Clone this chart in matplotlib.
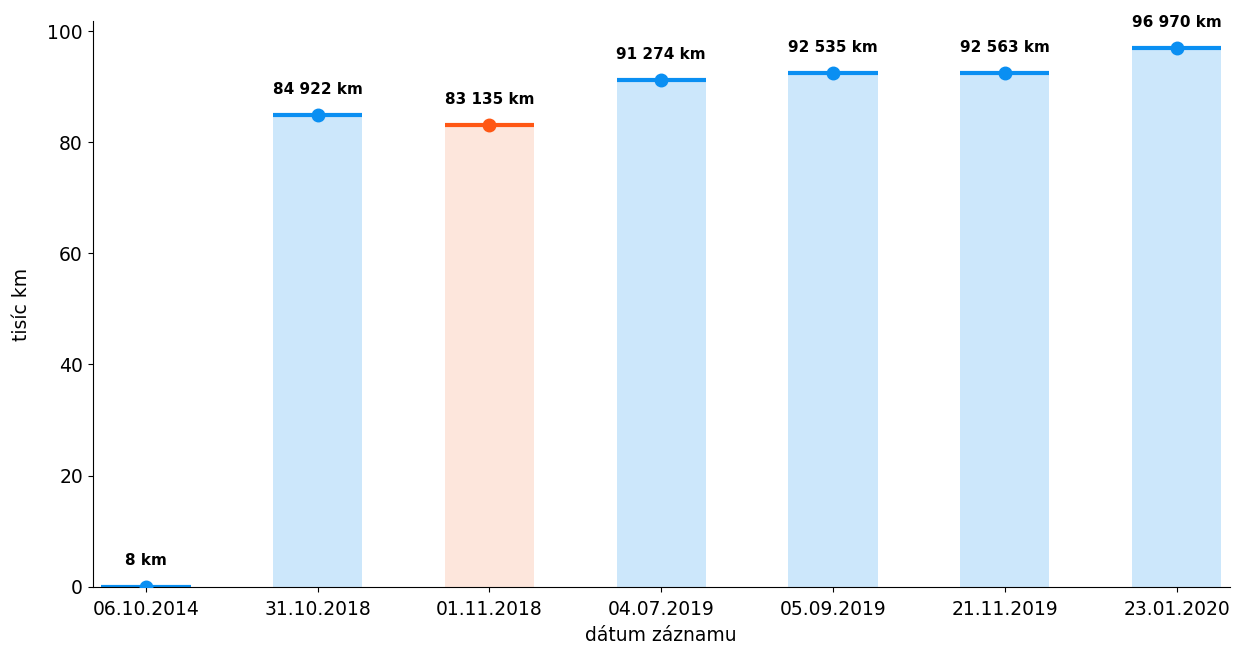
import matplotlib.pyplot as plt

dates = ["06.10.2014", "31.10.2018", "01.11.2018", "04.07.2019",
         "05.09.2019", "21.11.2019", "23.01.2020"]
km = [8, 84922, 83135, 91274, 92535, 92563, 96970]
flagged = [False, False, True, False, False, False, False]

blue, blue_fill = "#0a8ff2", "#cce7fb"
orange, orange_fill = "#ff5714", "#fde6dc"

fig, ax = plt.subplots(figsize=(12.36, 6.46), dpi=100)
fig.subplots_adjust(left=0.075, right=0.995, top=0.967, bottom=0.092)

width = 0.52
for i, (d, v, bad) in enumerate(zip(dates, km, flagged)):
    y = v / 1000
    line_c = orange if bad else blue
    fill_c = orange_fill if bad else blue_fill
    ax.bar(i, y, width=width, color=fill_c, zorder=1)
    ax.plot([i - width / 2, i + width / 2], [y, y], color=line_c, lw=3,
            solid_capstyle="butt", zorder=2)
    ax.plot(i, y, "o", color=line_c, ms=9, zorder=3)
    label = f"{v:,} km".replace(",", " ")
    ax.annotate(label, (i, y), xytext=(0, 13), textcoords="offset points",
                ha="center", va="bottom", fontsize=11, fontweight="bold")

ax.set_xticks(range(len(dates)))
ax.set_xticklabels(dates, fontsize=13.5)
ax.tick_params(axis="x", pad=6.5)
ax.tick_params(axis="y", labelsize=13.5)
ax.set_xlim(-0.31, len(dates) - 0.69)
ax.set_ylim(0, 101.8)
ax.set_yticks([0, 20, 40, 60, 80, 100])
ax.set_xlabel("dátum záznamu", fontsize=13.5, labelpad=5)
ax.set_ylabel("tisíc km", fontsize=13.5, labelpad=12)
ax.spines["top"].set_visible(False)
ax.spines["right"].set_visible(False)

plt.savefig("out.png")
